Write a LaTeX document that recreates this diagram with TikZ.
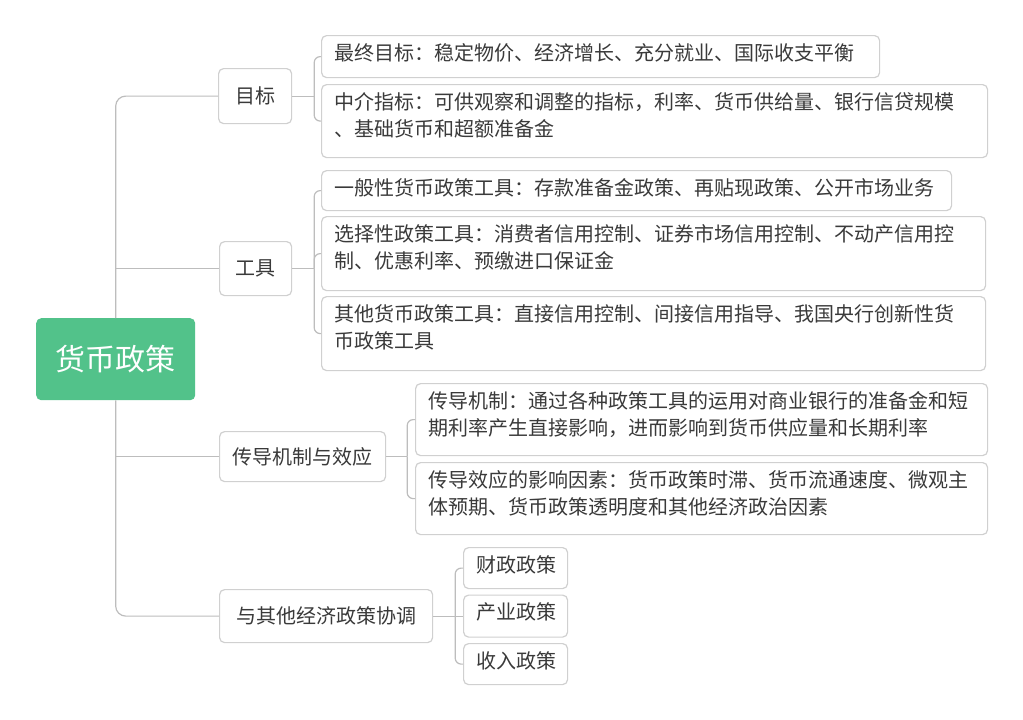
\documentclass[tikz,border=0pt]{standalone}
\usepackage{fontspec}
\setmainfont{Noto Sans CJK SC}
\definecolor{rootgreen}{HTML}{52C28A}
\definecolor{txt}{HTML}{3A3A3A}
\definecolor{boxline}{HTML}{D0D0D0}
\definecolor{conline}{HTML}{BDBDBD}
\newcommand\lft[3]{\parbox[c][#2][t]{#1}{\fontsize{20}{27}\selectfont #3}}
\begin{document}
\begin{tikzpicture}[x=1pt,y=-1pt,
  topic/.style={draw=boxline, line width=1.2pt, rounded corners=5pt, fill=white, text=txt,
    font=\fontsize{20}{24}\selectfont, inner sep=0pt, anchor=north west},
  leaf/.style={topic, inner xsep=13pt, inner ysep=8pt},
  rootbox/.style={fill=rootgreen, rounded corners=5pt, text=white, inner sep=0pt,
    font=\fontsize{30}{36}\selectfont, anchor=north west},
  conn/.style={draw=conline, line width=1.2pt, rounded corners=6pt},
  trunk/.style={conn, rounded corners=10pt}]
\useasboundingbox (0,0) rectangle (1023,720);
\fill[white] (0,0) rectangle (1023,720);

% root
\node[rootbox, minimum width=159pt, minimum height=82pt] (root) at (36,318) {货币政策};

% level 1
\node[topic, minimum width=73pt, minimum height=55pt] (mb) at (218,68) {目标};
\node[topic, minimum width=72pt, minimum height=54pt] (gj) at (219,241) {工具};
\node[topic, minimum width=166pt, minimum height=50pt] (cd) at (219,431) {传导机制与效应};
\node[topic, minimum width=213pt, minimum height=53pt] (xt) at (219,589) {与其他经济政策协调};

% level 2: 目标
\node[leaf] (a1) at (321,35) {\lft{532pt}{26pt}{最终目标：稳定物价、经济增长、充分就业、国际收支平衡}};
\node[leaf] (a2) at (321,84) {\lft{640pt}{57pt}{中介指标：可供观察和调整的指标，利率、货币供给量、银行信贷规模\\、基础货币和超额准备金}};

% level 2: 工具
\node[leaf] (b1) at (321,170) {\lft{604pt}{24pt}{一般性货币政策工具：存款准备金政策、再贴现政策、公开市场业务}};
\node[leaf] (b2) at (321,216) {\lft{638pt}{58pt}{选择性政策工具：消费者信用控制、证券市场信用控制、不动产信用控\\制、优惠利率、预缴进口保证金}};
\node[leaf] (b3) at (321,296) {\lft{638pt}{58pt}{其他货币政策工具：直接信用控制、间接信用指导、我国央行创新性货\\币政策工具}};

% level 2: 传导
\node[leaf] (c1) at (415,383) {\lft{546pt}{56pt}{传导机制：通过各种政策工具的运用对商业银行的准备金和短\\期利率产生直接影响，进而影响到货币供应量和长期利率}};
\node[leaf] (c2) at (415,462) {\lft{546pt}{56pt}{传导效应的影响因素：货币政策时滞、货币流通速度、微观主\\体预期、货币政策透明度和其他经济政治因素}};

% level 2: 协调
\node[leaf] (d1) at (463,547) {\lft{78pt}{25pt}{财政政策}};
\node[leaf] (d2) at (463,594.5) {\lft{78pt}{26pt}{产业政策}};
\node[leaf] (d3) at (463,643) {\lft{78pt}{25pt}{收入政策}};

% trunk
\draw[trunk] (mb.west) -| (root.north);
\draw[trunk] (xt.west) -| (root.south);
\draw[conn] (gj.west) -- (gj.west -| root.north);
\draw[conn] (cd.west) -- (cd.west -| root.north);

% brackets
\draw[conn] (mb.east) -- ++(22,0) coordinate (mbj);
\draw[conn] (a1.west) -| (mbj);
\draw[conn] (a2.west) -| (mbj);

\draw[conn] (gj.east) -- ++(22,0) coordinate (gjj);
\draw[conn] (b1.west) -| (gjj);
\draw[conn] (b2.west) -| (gjj);
\draw[conn] (b3.west) -| (gjj);

\draw[conn] (cd.east) -- ++(21,0) coordinate (cdj);
\draw[conn] (c1.west) -| (cdj);
\draw[conn] (c2.west) -| (cdj);

\draw[conn] (xt.east) -- ++(22,0) coordinate (xtj);
\draw[conn] (xtj) -- (d2.west);
\draw[conn] (d1.west) -| (xtj);
\draw[conn] (d3.west) -| (xtj);
\end{tikzpicture}
\end{document}
